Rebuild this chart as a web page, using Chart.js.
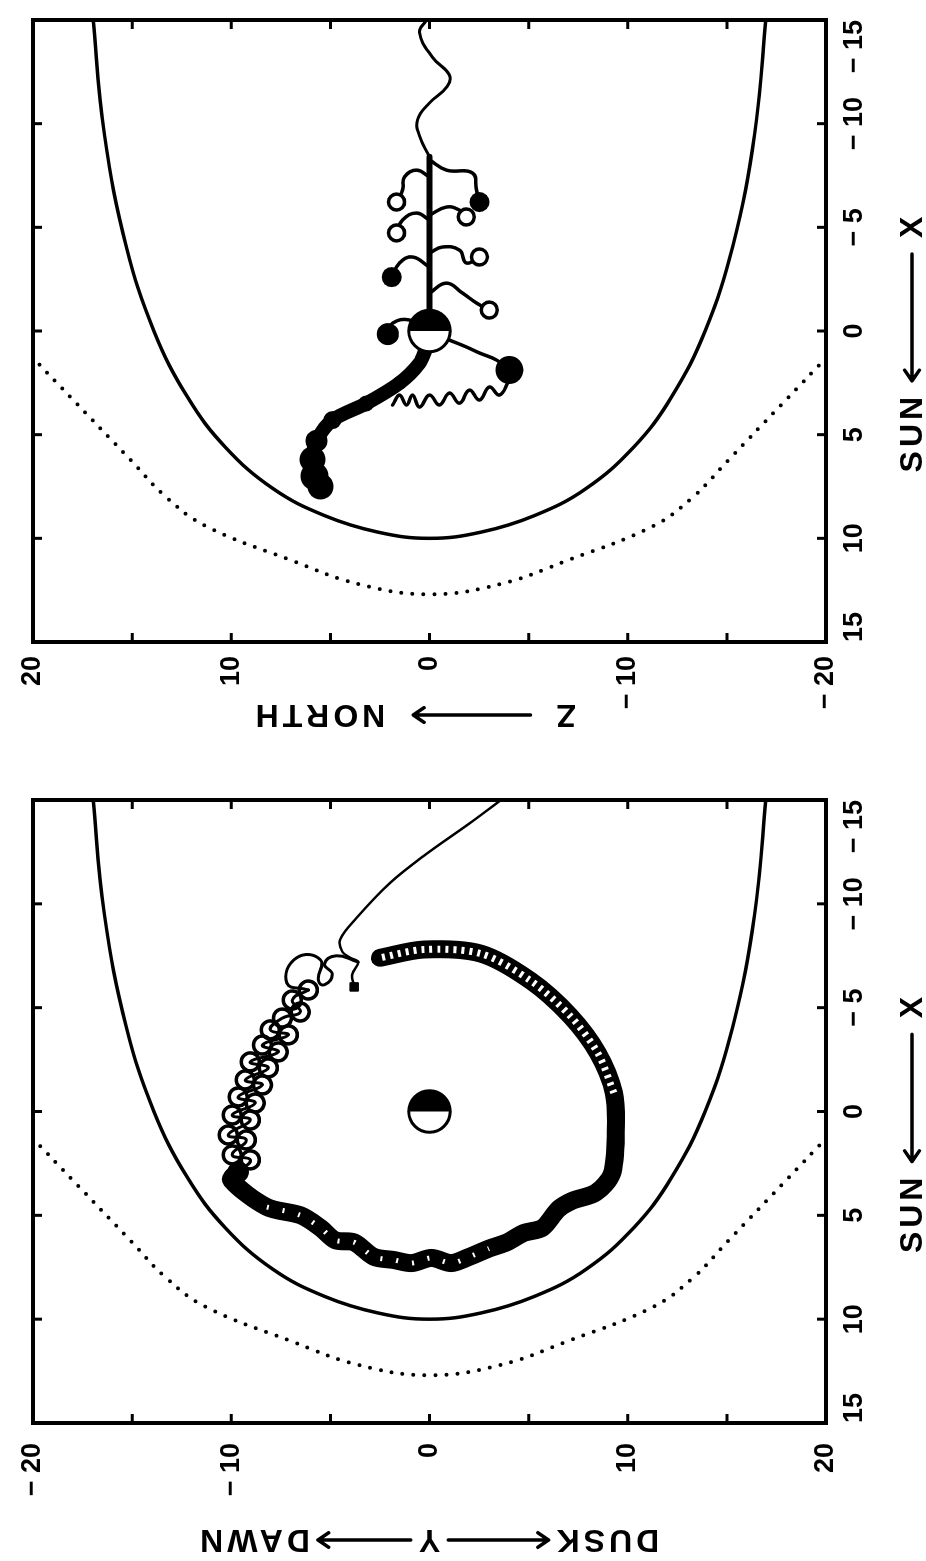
<!DOCTYPE html>
<html>
<head>
<meta charset="utf-8">
<title>Ion orbit in the magnetosphere</title>
<script src="https://cdn.jsdelivr.net/npm/chart.js@4.4.1/dist/chart.umd.min.js"></script>
<style>
  html, body { margin: 0; padding: 0; background: #fff; overflow: hidden; }
  /* the figure is laid out landscape and turned a quarter turn */
  #sheet { position: absolute; left: 0; top: 0; width: 1561px; height: 926px;
           transform-origin: 0 0; transform: translateY(1561px) rotate(-90deg); }
  #xy { position: absolute; left: 0; top: 0; }
  #xz { position: absolute; left: 800px; top: 0; }
</style>
</head>
<body>
<div id="sheet">
  <canvas id="xy" width="780" height="926"></canvas>
  <canvas id="xz" width="761" height="926"></canvas>
</div>
<script>
// boundaries, half widths in RE
const mpX = [-15.4, -9.5, -4.1, 0.0, 3.2, 5.6, 7.6, 8.9, 9.7, 10.0];
const mpR = [17.0, 16.4, 15.3, 13.9, 12.2, 10.3, 7.9, 5.3, 2.6, 0.0];
const bsX = [0.9, 3.5, 6.2, 8.0, 9.4, 11.05, 12.2, 12.7];
const bsR = [20.4, 17.8, 15.1, 13.3, 11.3, 7.0, 3.6, 0.0];

// equatorial view (X, Y)
const tailX = [-15.0, -14.0, -12.3, -11.0, -9.3, -8.3, -7.7, -7.4, -7.2, -6.6, -6.0];
const tailY = [3.6, 2.2, -0.3, -2.0, -3.7, -4.5, -4.4, -4.0, -3.6, -3.9, -3.8];
const startX = [-6.0];
const startY = [-3.8];
const curlX = [-7.2, -7.5, -7.1, -6.6, -6.1, -6.3, -7.3, -7.4, -6.2, -5.85];
const curlY = [-3.6, -4.7, -5.3, -4.9, -5.3, -5.6, -5.5, -6.7, -7.2, -6.1];
const beadX = [-5.85, -5.37, -4.79, -4.5, -3.93, -3.69, -3.2, -2.87, -2.39, -2.1, -1.52, -1.28,
               -0.7, -0.41, 0.17, 0.41, 1.13, 1.37, 2.09, 2.33, 2.91];
const beadY = [-6.11, -6.92, -6.52, -7.42, -8.03, -7.12, -8.43, -7.63, -9.04, -8.13, -9.29, -8.43,
               -9.65, -8.79, -9.95, -9.04, -10.15, -9.24, -9.95, -9.04, -9.65];
const ringX = [2.9, 3.3, 4.6, 5.0, 5.6, 6.2, 6.3, 7.0, 7.15, 7.3, 7.05, 7.3, 7.0, 6.6, 6.3, 5.85, 5.6, 4.7, 4.3, 3.9, 3.0, 1.0, -0.9, -2.8, -4.6, -6.3, -7.6, -7.8, -7.4];
const ringY = [-9.7, -10.0, -8.2, -6.5, -5.5, -4.75, -3.8, -2.8, -1.8, -0.9, 0.1, 1.1, 2.0, 3.0, 3.9, 4.75, 5.7, 6.5, 7.2, 8.4, 9.2, 9.4, 9.3, 8.5, 7.1, 5.1, 2.6, -0.3, -2.5];

// meridian view (X, Z)
const wakeX = [-15.0, -14.4, -13.2, -12.35, -11.8, -11.0, -10.2, -9.4, -8.4];
const wakeZ = [0.15, 0.5, -0.15, -1.0, -0.9, 0.0, 0.6, 0.5, 0.0];
const spineX = [-8.4, -0.3];
const spineZ = [0.0, 0.0];
const armX = [-8.25, -7.76, -7.62, -6.8, -6.22, null, -7.43, -7.76, -7.43, -6.8, -6.22, null,
              -5.59, -5.98, -5.83, -5.5, null, -5.35, -5.69, -5.35, -4.73, null,
              -3.76, -4.05, -3.9, -3.28, -3.57, null, -3.08, -3.57, -3.28, -2.6, null,
              -1.83, -2.31, -1.83, -1.35, -1.01, null, -0.05, -0.53, -0.38, 0.2, null,
              0.44, 0.77, 1.06, 1.4, 1.88];
const armZ = [0.0, -0.86, -2.17, -2.37, -2.52, null, 0.0, 0.65, 1.26, 1.36, 1.66, null,
              0.0, -0.86, -1.51, -1.86, null, 0.0, 0.65, 1.36, 1.66, null,
              0.0, -0.65, -1.51, -1.86, -2.52, null, 0.0, 0.86, 1.51, 1.91, null,
              0.0, -0.86, -1.66, -2.37, -3.02, null, 0.15, 1.01, 1.86, 2.27, null,
              -1.01, -1.86, -2.52, -3.38, -4.03];
const zigX = [3.57, 3.09, 3.57, 3.09, 3.67, 3.09, 3.57, 2.99, 3.48, 2.85, 3.33, 2.7, 3.09, 2.37];
const zigZ = [1.86, 1.51, 1.16, 0.86, 0.5, 0.0, -0.5, -1.01, -1.51, -2.02, -2.52, -3.02, -3.53, -4.03];
const openLoopX = [-6.22, -4.73, -5.5, -3.57, -1.01];
const openLoopZ = [1.66, 1.66, -1.86, -2.52, -3.02];
const fullLoopX = [-6.22, -2.6, 0.15, 1.88];
const fullLoopZ = [-2.52, 1.91, 2.1, -4.03];
const plumeX = [0.9, 1.55, 2.5, 3.5, 4.3, 5.3, 6.2, 7.0, 7.5];
const plumeZ = [0.2, 0.5, 1.5, 3.2, 4.9, 5.7, 5.9, 5.8, 5.5];

const xTicks = [-15, -10, -5, 0, 5, 10, 15];
const yLabels = [-20, -10, 0, 10, 20];

const family = "'Liberation Sans', 'DejaVu Sans', Arial, sans-serif";
Chart.defaults.font.family = family;
Chart.defaults.color = '#000';
const tickFont = { size: 27, weight: 'bold' };

const pairs = (xs, ys) => xs.map((x, i) => ({ x, y: ys[i] }));

// both flanks of a boundary, dawn side first
function flanks(xs, rs) {
  const pts = xs.map((x, i) => ({ x, y: -rs[i] }));
  for (let i = xs.length - 2; i >= 0; i--) pts.push({ x: xs[i], y: rs[i] });
  return pts;
}

// break a null-separated list into separate runs
function runs(xs, ys) {
  const out = [[]];
  xs.forEach((x, i) => {
    if (x === null) out.push([]);
    else out[out.length - 1].push({ x, y: ys[i] });
  });
  return out;
}

const fmt = v => (v < 0 ? '\u2212 ' + Math.abs(v) : String(v));

function line(data, width, extra) {
  return Object.assign({
    data, showLine: true, borderColor: '#000', borderWidth: width,
    pointRadius: 0, fill: false, tension: 0.35,
    borderCapStyle: 'round', borderJoinStyle: 'round'
  }, extra || {});
}

// later entries are painted over earlier ones
const stack = list => list.map((d, i) => Object.assign(d, { order: -i }));

function boundaries() {
  return [
    line(flanks(mpX, mpR), 3.5, { tension: 0.4 }),
    line(flanks(bsX, bsR), 4, { tension: 0.4, borderDash: [0, 11] })
  ];
}

function axes(o) {
  return {
    x: {
      type: 'linear', position: 'bottom', min: -15, max: 15, reverse: true,
      grid: { display: false, drawTicks: false }, border: { display: false },
      // ascending order keeps the two end labels inside the box
      afterBuildTicks: s => { s.ticks = xTicks.map(value => ({ value })); },
      ticks: { autoSkip: false, maxRotation: 0, align: 'inner', padding: 12,
               font: tickFont, callback: fmt },
      afterFit: s => { s.height = 100; s.paddingLeft = 0; s.paddingRight = 0; }
    },
    y: {
      type: 'linear', position: 'left', min: -20, max: 20, reverse: o.reverse,
      grid: { display: false, drawTicks: false }, border: { display: false },
      ticks: { stepSize: 5, autoSkip: false, padding: o.tickPad, font: tickFont,
               callback: v => (yLabels.includes(v) ? fmt(v) : '') },
      afterFit: s => { s.width = o.width; s.paddingTop = 0; s.paddingBottom = 0; }
    }
  };
}

// Earth: day side white, night side (X < 0, to the right) black
const earth = {
  id: 'earth',
  afterDatasetsDraw(chart) {
    const { ctx, scales: { x, y } } = chart;
    const cx = x.getPixelForValue(0), cy = y.getPixelForValue(0);
    const r = Math.abs(x.getPixelForValue(1) - cx);
    ctx.save();
    ctx.beginPath(); ctx.arc(cx, cy, r, 0, 2 * Math.PI);
    ctx.fillStyle = '#fff'; ctx.fill();
    ctx.beginPath(); ctx.arc(cx, cy, r, -Math.PI / 2, Math.PI / 2); ctx.closePath();
    ctx.fillStyle = '#000'; ctx.fill();
    ctx.beginPath(); ctx.arc(cx, cy, r, 0, 2 * Math.PI);
    ctx.lineWidth = 3; ctx.strokeStyle = '#000'; ctx.stroke();
    ctx.restore();
  }
};

// box with inward tick marks on all four sides
const frame = {
  id: 'frame',
  afterDatasetsDraw(chart) {
    const { ctx, chartArea: a, scales: { x, y } } = chart;
    const len = 9;
    ctx.save();
    ctx.strokeStyle = '#000';
    ctx.lineWidth = 3;
    ctx.beginPath();
    x.ticks.forEach(t => {
      const p = x.getPixelForValue(t.value);
      ctx.moveTo(p, a.bottom); ctx.lineTo(p, a.bottom - len);
      ctx.moveTo(p, a.top); ctx.lineTo(p, a.top + len);
    });
    y.ticks.forEach(t => {
      const p = y.getPixelForValue(t.value);
      ctx.moveTo(a.left, p); ctx.lineTo(a.left + len, p);
      ctx.moveTo(a.right, p); ctx.lineTo(a.right - len, p);
    });
    ctx.stroke();
    ctx.lineWidth = 4;
    ctx.strokeRect(a.left, a.top, a.right - a.left, a.bottom - a.top);
    ctx.restore();
  }
};

// axis legends: words placed along the axis, joined by drawn arrows
function word(ctx, text, x, y, angle) {
  ctx.save();
  ctx.translate(x, y);
  ctx.rotate(angle);
  ctx.textAlign = 'center';
  ctx.textBaseline = 'middle';
  ctx.fillText(text, 2, 1);
  ctx.restore();
  return ctx.measureText(text).width;
}

function arrow(ctx, x1, y1, x2, y2) {
  const a = Math.atan2(y2 - y1, x2 - x1), h = 13;
  ctx.beginPath();
  ctx.moveTo(x1, y1); ctx.lineTo(x2, y2);
  ctx.moveTo(x2 - h * Math.cos(a - 0.6), y2 - h * Math.sin(a - 0.6));
  ctx.lineTo(x2, y2);
  ctx.lineTo(x2 - h * Math.cos(a + 0.6), y2 - h * Math.sin(a + 0.6));
  ctx.stroke();
}

function legends(side) {
  return {
    id: 'legends',
    afterDraw(chart) {
      const { ctx, scales: { x, y } } = chart;
      ctx.save();
      ctx.font = 'bold 32px ' + family;
      ctx.letterSpacing = '4px';
      ctx.fillStyle = '#000';
      ctx.strokeStyle = '#000';
      ctx.lineWidth = 3.5;
      ctx.lineCap = 'round';
      ctx.lineJoin = 'round';
      const gap = 14;

      // SUN <-- X
      const ty = chart.height - 14;
      const sunX = x.getPixelForValue(5), xX = x.getPixelForValue(-5);
      const wSun = word(ctx, 'SUN', sunX, ty, 0);
      const wX = word(ctx, 'X', xX, ty, 0);
      arrow(ctx, xX - wX / 2 - gap, ty, sunX + wSun / 2 + gap, ty);

      // vertical legend reads upward
      const up = -Math.PI / 2;
      const tx = side.x;
      const at = v => y.getPixelForValue(v);
      if (side.kind === 'Y') {
        const wY = word(ctx, 'Y', tx, at(0), up);
        const wDawn = word(ctx, 'DAWN', tx, at(-8.8), up);
        const wDusk = word(ctx, 'DUSK', tx, at(9.0), up);
        arrow(ctx, tx, at(0) - wY / 2 - 6, tx, at(-8.8) + wDawn / 2 + 6);
        arrow(ctx, tx, at(0) + wY / 2 + 6, tx, at(9.0) - wDusk / 2 - 6);
      } else {
        const wZ = word(ctx, 'Z', tx, at(-6.9), up);
        const wNorth = word(ctx, 'NORTH', tx, at(5.5), up);
        arrow(ctx, tx, at(-6.9) - wZ / 2 - 24, tx, at(5.5) + wNorth / 2 + 26);
      }
      ctx.restore();
    }
  };
}

const common = {
  responsive: false, animation: false,
  plugins: { legend: { display: false }, tooltip: { enabled: false } },
  events: []
};

// X-Y plane
const ring = pairs(ringX, ringY);
new Chart(document.getElementById('xy'), {
  type: 'scatter',
  data: {
    datasets: stack([
      ...boundaries(),
      line(pairs(tailX, tailY), 2.5),
      line(pairs(curlX, curlY), 3, { tension: 0.5 }),
      line(pairs(beadX, beadY), 3, {
        pointRadius: 9, pointBorderWidth: 3.5, pointBorderColor: '#000',
        pointBackgroundColor: 'rgba(0,0,0,0)', tension: 0.5
      }),
      line(ring, 18, { tension: 0.3 }),
      line(ring.slice(22), 7, { borderColor: '#fff', borderDash: [3, 5], borderCapStyle: 'butt', tension: 0.3 }),
      line(ring.slice(2, 14), 5, { borderColor: '#fff', borderDash: [2, 14], borderCapStyle: 'butt', tension: 0.3 }),
      { data: pairs(startX, startY), pointStyle: 'rect', pointRadius: 6,
        pointBackgroundColor: '#000', pointBorderColor: '#000' }
    ])
  },
  options: Object.assign({}, common, {
    layout: { padding: { left: 0, right: 19, top: 33, bottom: 0 } },
    scales: axes({ reverse: true, tickPad: 20, width: 138 })
  }),
  plugins: [earth, frame, legends({ kind: 'Y', x: 21 })]
});

// X-Z plane
const plume = pairs(plumeX, plumeZ);
new Chart(document.getElementById('xz'), {
  type: 'scatter',
  data: {
    datasets: stack([
      ...boundaries(),
      line(pairs(wakeX, wakeZ), 3, { tension: 0.45 }),
      line(pairs(spineX, spineZ), 6, { tension: 0 }),
      ...runs(armX, armZ).map(r => line(r, 3.5, { tension: 0.45 })),
      line(pairs(zigX, zigZ), 3.5, { tension: 0.45 }),
      line(plume, 14, { tension: 0.3, pointRadius: [3, 5, 7, 8, 9, 11, 13, 14, 13],
        pointBackgroundColor: '#000', pointBorderWidth: 0 }),
      { data: pairs(openLoopX, openLoopZ), pointRadius: 8, pointBorderWidth: 3.5,
        pointBorderColor: '#000', pointBackgroundColor: '#fff' },
      { data: pairs(fullLoopX, fullLoopZ), pointRadius: [10, 10, 11, 14], pointBorderWidth: 0,
        pointBackgroundColor: '#000' }
    ])
  },
  options: Object.assign({}, common, {
    layout: { padding: { left: 0, right: 20, top: 33, bottom: 0 } },
    scales: axes({ reverse: false, tickPad: 14, width: 119 })
  }),
  plugins: [earth, frame, legends({ kind: 'Z', x: 46 })]
});
</script>
</body>
</html>
